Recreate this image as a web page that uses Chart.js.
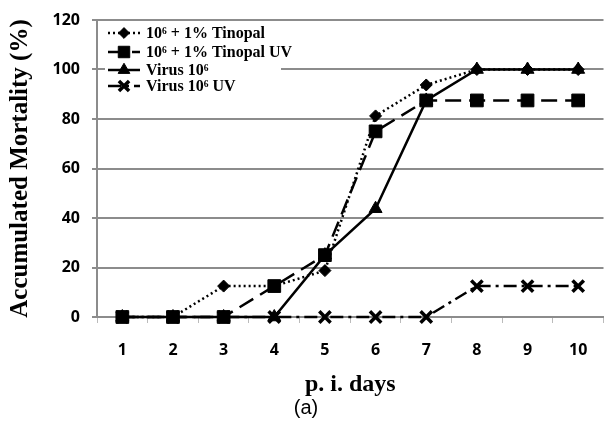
<!DOCTYPE html>
<html>
<head>
<meta charset="utf-8">
<script src="https://cdn.jsdelivr.net/npm/chart.js@4.4.0/dist/chart.umd.min.js"></script>
<style>
  html, body { margin: 0; padding: 0; background: #fff; }
  #wrap { width: 615px; height: 426px; }
</style>
</head>
<body>
<div id="wrap"><canvas id="grafico" width="615" height="426"></canvas></div>
<script>
// valores
var dias = ['1', '2', '3', '4', '5', '6', '7', '8', '9', '10'];
var tinopal = [0, 0, 12.5, 12.5, 18.75, 81.25, 93.75, 100, 100, 100];
var tinopalUV = [0, 0, 0, 12.5, 25, 75, 87.5, 87.5, 87.5, 87.5];
var virus = [0, 0, 0, 0, 25, 43.75, 87.5, 100, 100, 100];
var virusUV = [0, 0, 0, 0, 0, 0, 0, 12.5, 12.5, 12.5];
var nombres = ['10\u2076 + 1% Tinopal', '10\u2076 + 1% Tinopal UV', 'Virus 10\u2076', 'Virus 10\u2076 UV'];
var ticksY = [0, 20, 40, 60, 80, 100, 120];

var serif = '"Liberation Serif", "DejaVu Serif", serif';
var sans = '"Open Sans", "Noto Sans", sans-serif';

function serie(nombre, datos, estilo, dash, ancho, radio, bordePunto, orden) {
  return {
    label: nombre,
    data: datos,
    order: orden,
    clip: false,
    borderColor: '#000',
    backgroundColor: '#000',
    borderWidth: ancho,
    borderDash: dash,
    pointStyle: estilo,
    pointRadius: radio,
    pointBorderWidth: bordePunto,
    pointBackgroundColor: '#000',
    pointBorderColor: '#000',
    tension: 0,
    fill: false
  };
}

var datasets = [
  serie(nombres[0], tinopal, 'rectRot', [2, 3], 2.5, 6, 1, 4),
  serie(nombres[1], tinopalUV, 'rect', [16, 8], 2.5, 9, 1, 1),
  serie(nombres[2], virus, 'triangle', [], 2.5, 7.5, 1, 2),
  serie(nombres[3], virusUV, 'crossRot', [13, 5, 3, 5], 2.5, 8, 3.5, 3)
];

// leyenda dentro del area del grafico
var leyendaInterna = {
  id: 'leyendaInterna',
  afterDraw: function(chart) {
    var ctx = chart.ctx;
    var area = chart.chartArea;
    ctx.save();
    ctx.fillStyle = '#fff';
    ctx.fillRect(area.left + 8, area.top + 4, 176, 80);
    var filas = [33, 52, 70, 86];
    for (var i = 0; i < datasets.length; i++) {
      var ds = datasets[i];
      var y = filas[i];
      ctx.strokeStyle = '#000';
      ctx.lineWidth = ds.borderWidth;
      ctx.setLineDash(ds.borderDash);
      ctx.beginPath();
      ctx.moveTo(108, y);
      ctx.lineTo(140, y);
      ctx.stroke();
      ctx.setLineDash([]);
      ctx.fillStyle = '#000';
      ctx.lineWidth = ds.pointBorderWidth;
      Chart.helpers.drawPoint(ctx, {
        pointStyle: ds.pointStyle,
        radius: ds.pointRadius * 0.9,
        borderWidth: ds.pointBorderWidth
      }, 124, y);
      ctx.fillStyle = '#000';
      ctx.font = 'bold 16px ' + serif;
      ctx.textBaseline = 'middle';
      ctx.textAlign = 'left';
      ctx.fillText(ds.label, 146, y + 1);
    }
    ctx.restore();
  }
};

var contexto = document.getElementById('grafico').getContext('2d');
var chart = new Chart(contexto, {
  type: 'line',
  data: { labels: dias, datasets: datasets },
  plugins: [leyendaInterna],
  options: {
    responsive: false,
    animation: false,
    layout: { padding: { left: 6, right: 9, top: 4, bottom: 8 } },
    plugins: {
      legend: { display: false },
      tooltip: { enabled: false },
      title: {
        display: true,
        position: 'bottom',
        text: '(a)',
        color: '#000',
        font: { family: '"Liberation Sans", Arial, sans-serif', size: 20, weight: 'normal', lineHeight: 1 },
        padding: { top: 0, bottom: 0 }
      }
    },
    scales: {
      x: {
        type: 'category',
        offset: true,
        afterFit: function(eje) { eje.height = 81; },
        grid: {
          display: true,
          drawOnChartArea: false,
          drawTicks: true,
          tickLength: 6,
          color: '#bbb',
          offset: true
        },
        border: { display: true, color: '#8c8c8c', width: 2 },
        ticks: {
          color: '#000',
          padding: 18,
          font: { family: sans, size: 16, weight: 'bold' },
          maxRotation: 0
        },
        title: {
          display: true,
          text: 'p. i. days',
          color: '#000',
          font: { family: serif, size: 24, weight: 'bold', lineHeight: 1 },
          padding: { top: 0, bottom: 1 }
        }
      },
      y: {
        min: 0,
        max: 120,
        afterBuildTicks: function(eje) {
          eje.ticks = ticksY.map(function(v) { return { value: v }; });
        },
        afterFit: function(eje) { eje.width = 91; },
        grid: {
          color: '#8c8c8c',
          lineWidth: 2,
          drawTicks: true,
          tickLength: 5
        },
        border: { display: true, color: '#8c8c8c', width: 2 },
        ticks: {
          color: '#000',
          padding: 12,
          font: { family: sans, size: 16, weight: 'bold', lineHeight: 1 }
        },
        title: {
          display: true,
          text: 'Accumulated Mortality (%)',
          color: '#000',
          font: { family: serif, size: 25, weight: 'bold' },
          padding: { top: 0, bottom: 2 }
        }
      }
    }
  }
});
</script>
</body>
</html>
